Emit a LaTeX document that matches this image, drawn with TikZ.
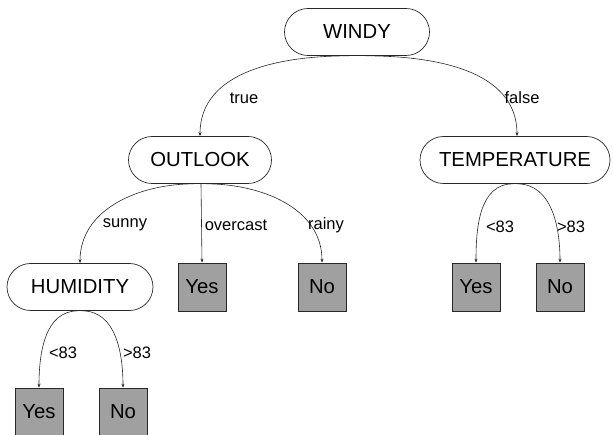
\documentclass[tikz,border=0pt]{standalone}
\usepackage{fontspec}
\setmainfont{Liberation Sans}
\usetikzlibrary{shapes.misc,arrows.meta}
\definecolor{leafgray}{RGB}{160,160,160}
\definecolor{inkgray}{RGB}{40,40,40}
\tikzset{
  decision/.style={rounded rectangle, draw=inkgray, line width=0.7pt, fill=white,
    minimum width=#1, minimum height=47pt, inner sep=0pt, font=\fontsize{20.3}{20.3}\selectfont},
  leaf/.style={rectangle, draw=inkgray, line width=0.7pt, fill=leafgray,
    minimum width=48pt, minimum height=48pt, inner sep=0pt, font=\fontsize{20.3}{20.3}\selectfont},
  branch/.style={draw=inkgray, line width=0.6pt, -{Stealth[length=4pt,width=3pt]}},
  edgelabel/.style={font=\fontsize{16.5}{16.5}\selectfont, inner sep=0pt}
}
\begin{document}
\begin{tikzpicture}[x=1pt,y=-1pt]
\useasboundingbox (0,0) rectangle (613,435);

% decision nodes
\node[decision=145pt] (windy) at (357,32) {WINDY};
\node[decision=143pt] (outlook) at (200,160) {OUTLOOK};
\node[decision=190pt] (temp) at (515,160) {TEMPERATURE};
\node[decision=146pt] (humid) at (80,287) {HUMIDITY};

% leaves
\node[leaf] (ovyes) at (202,287) {Yes};
\node[leaf] (rano) at (322,287) {No};
\node[leaf] (tyes) at (476,287) {Yes};
\node[leaf] (tno) at (560,287) {No};
\node[leaf] (hyes) at (39,412) {Yes};
\node[leaf] (hno) at (123,412) {No};

% branches
\draw[branch] ([xshift=-8pt]windy.south) to[out=180,in=90] (outlook.north);
\draw[branch] ([xshift=8pt]windy.south) to[out=0,in=90] ([xshift=2pt]temp.north);
\draw[branch] ([xshift=-6pt]outlook.south) to[out=180,in=90] (humid.north);
\draw[branch] ([xshift=1pt]outlook.south) -- (ovyes.north);
\draw[branch] ([xshift=6pt]outlook.south) to[out=0,in=90] (rano.north);
\draw[branch] ([xshift=-2pt]temp.south) to[out=180,in=90] (tyes.north);
\draw[branch] ([xshift=2pt]temp.south) to[out=0,in=90] (tno.north);
\draw[branch] ([xshift=-2pt]humid.south) to[out=180,in=90] (hyes.north);
\draw[branch] ([xshift=2pt]humid.south) to[out=0,in=90] (hno.north);

% branch labels
\node[edgelabel] (ltrue) at (244,98) {true};
\node[edgelabel] (lfalse) at (522,98) {false};
\node[edgelabel] (lsunny) at (125,225) {sunny};
\node[edgelabel] (lover) at (236,225) {overcast};
\node[edgelabel] (lrainy) at (326,225) {rainy};
\node[edgelabel] (ltl) at (500,227) {<83};
\node[edgelabel] (ltg) at (571,227) {>83};
\node[edgelabel] (lhl) at (63,353) {<83};
\node[edgelabel] (lhg) at (137,353) {>83};
\end{tikzpicture}
\end{document}
